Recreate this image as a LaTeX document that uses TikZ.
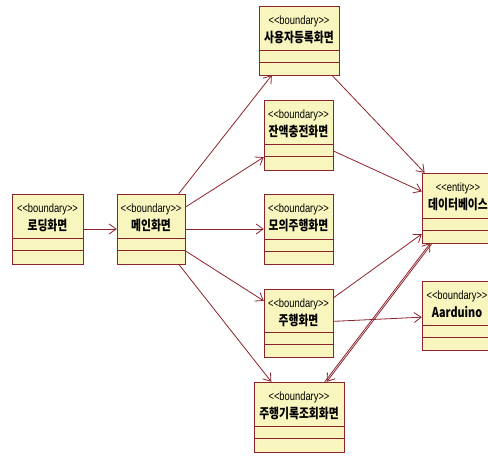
\documentclass[tikz,border=0pt]{standalone}
\usepackage{fontspec}
\setmainfont{Liberation Sans}
\newfontfamily\stfont[FakeStretch=0.78]{Liberation Sans}
\newfontfamily\kr[FakeStretch=0.8]{Noto Sans CJK KR}
\usetikzlibrary{arrows.meta,fit}
\definecolor{bd}{RGB}{140,35,45}
\definecolor{fl}{RGB}{248,245,190}
\tikzset{
  conn/.style={draw=bd, line width=0.8pt, -{Straight Barb[length=7pt,width=10pt]}},
  stereo/.style={font=\stfont\fontsize{12}{12}\selectfont, inner sep=0},
  titletext/.style={font=\kr\bfseries\fontsize{13.5}{13.5}\selectfont, inner sep=0},
  clsbox/.style={draw=bd, fill=fl, line width=0.8pt},
  divline/.style={draw=bd, line width=0.8pt},
}
\newcommand\umlcls[8]{%
  \path[clsbox] (#2,#3) rectangle (#4,#5);
  \path[divline] (#2,#6) -- (#4,#6) (#2,{#6+12}) -- (#4,{#6+12});
  \node[stereo] at ({(#2+#4)/2},{#3+15.5}) {#7};
  \node[titletext] at ({(#2+#4)/2},{#3+31}) {#8};
  \node[inner sep=0, fit={(#2,#3) (#4,#5)}] (#1) {};
}
\begin{document}
\begin{tikzpicture}[x=1pt,y=-1pt]
  \useasboundingbox (0,0) rectangle (488,456);
  \clip (0,0) rectangle (488,456);
  \fill[white] (0,0) rectangle (488,456);
  \umlcls{load}{12}{194}{83}{264}{238.5}{<{}<boundary>{}>}{로딩화면}
  \umlcls{main}{117}{194}{185}{264}{238.5}{<{}<boundary>{}>}{메인화면}
  \umlcls{user}{259}{6}{339}{75}{50.5}{<{}<boundary>{}>}{사용자등록화면}
  \umlcls{charge}{264}{100}{333}{170}{144.5}{<{}<boundary>{}>}{잔액충전화면}
  \umlcls{sim}{264}{194}{333}{264}{239.5}{<{}<boundary>{}>}{모의주행화면}
  \umlcls{drive}{264}{289}{333}{357}{332.5}{<{}<boundary>{}>}{주행화면}
  \umlcls{rec}{254}{382}{344}{452}{426.5}{<{}<boundary>{}>}{주행기록조회화면}
  \umlcls{db}{422}{173}{494}{243}{218}{<{}<entity>{}>}{데이터베이스}
  \umlcls{ard}{422}{281}{492}{350}{325}{<{}<boundary>{}>}{Aarduino}

  \draw[conn] (load) -- (main);
  \draw[conn] (main) -- (user);
  \draw[conn] (main) -- (charge);
  \draw[conn] (main) -- (sim);
  \draw[conn] (main) -- (drive);
  \draw[conn] (main) -- (rec);
  \draw[conn] (user) -- (db);
  \draw[conn] (charge) -- (db);
  \draw[conn] (drive) -- (db);
  \draw[conn] (drive) -- (ard);
  \draw[conn, transform canvas={xshift=-1pt}] (rec) -- (db);
  \draw[conn, transform canvas={xshift=1pt}] (db) -- (rec);
\end{tikzpicture}
\end{document}
